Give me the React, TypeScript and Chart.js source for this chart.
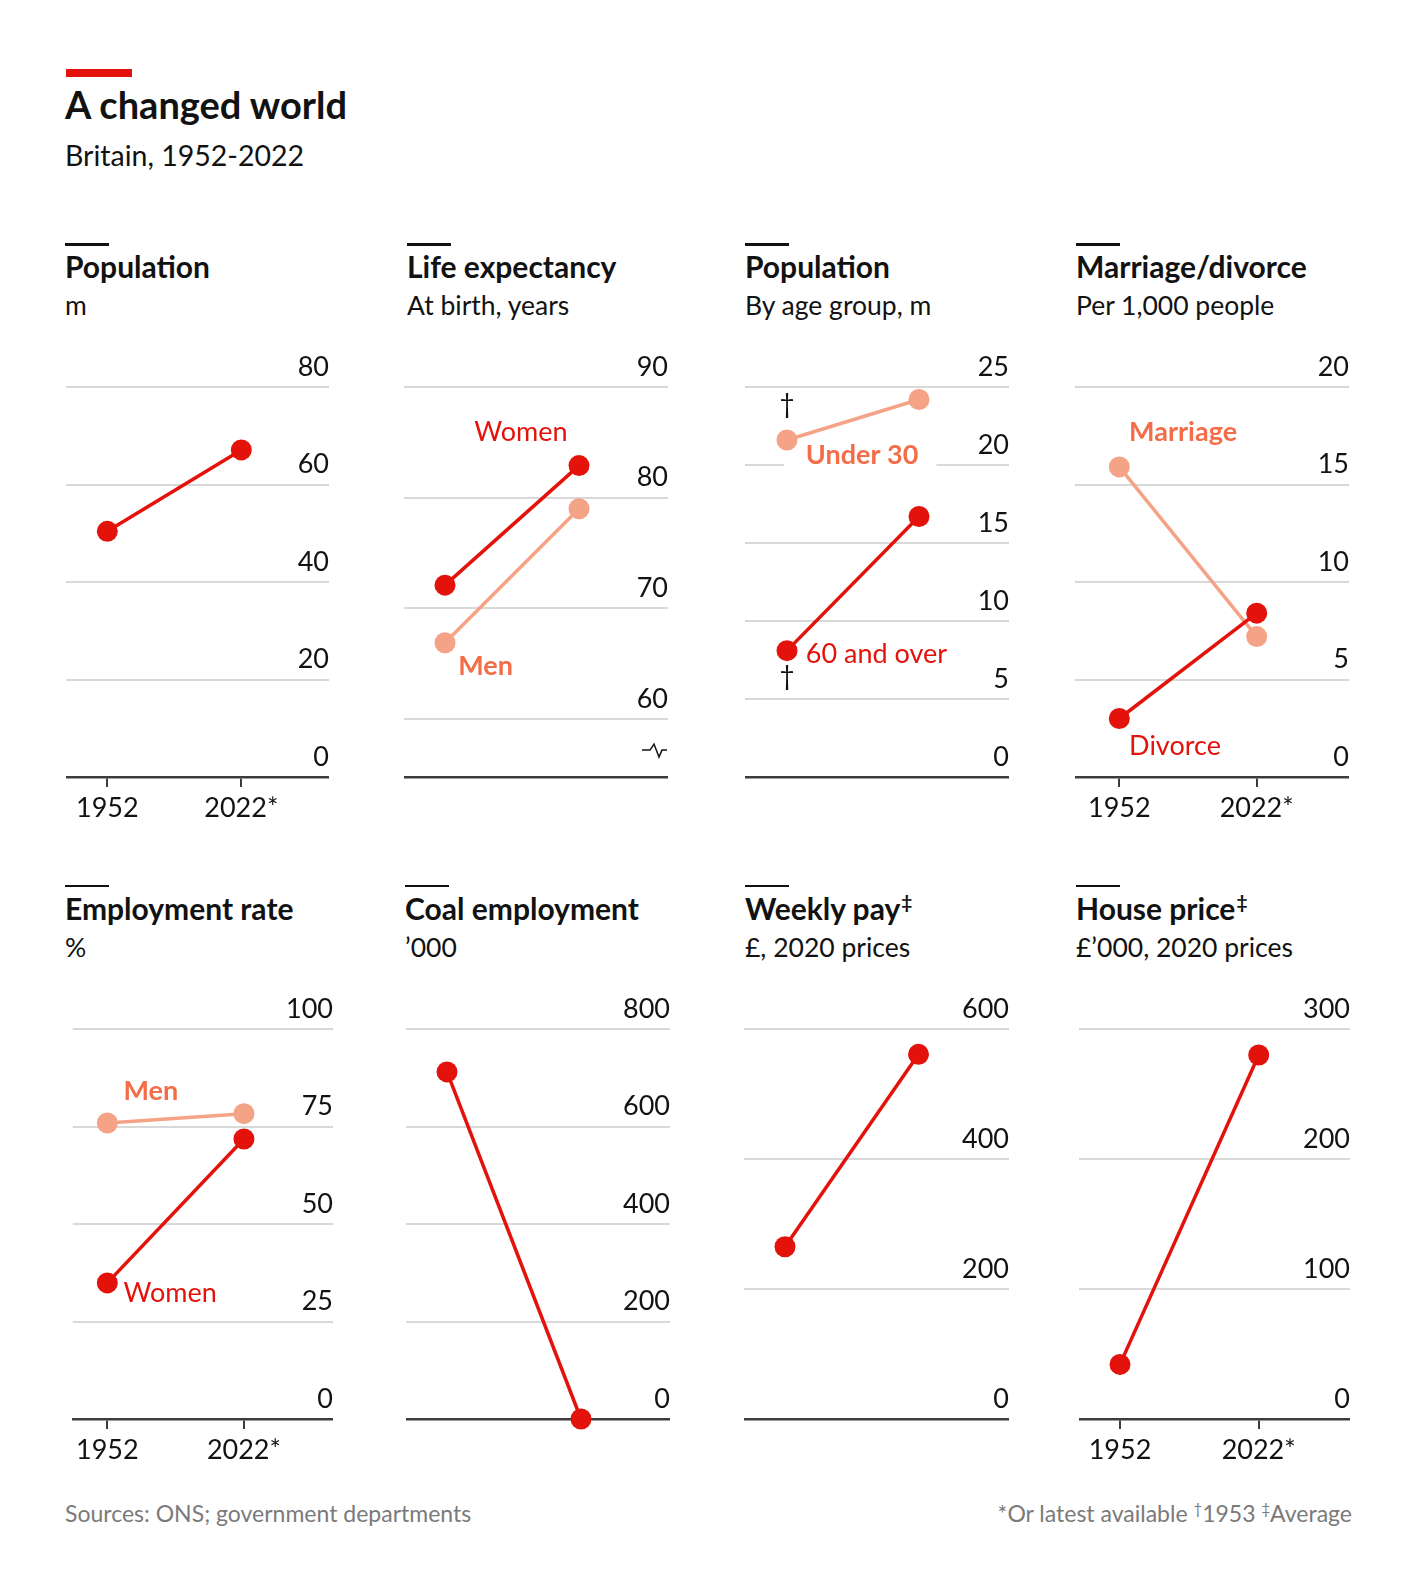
import { useEffect, useRef } from 'react';
import { Chart, registerables } from 'chart.js';

Chart.register(...registerables);

const FONT = 'Lato, "Noto Sans", sans-serif';
const RED = '#e3120b';
const SALMON = '#f5a387';
const SALMON_TEXT = '#f36d48';
const INK = '#121212';
const GRID = '#d9d9d9';
const AXIS = '#3c3c3c';

// shared x axis
const years = [1952, 2022];
const yearLabels = ['1952', '2022*'];

// Population, m
const popTicks = [0, 20, 40, 60, 80];
const popTotal = [50.4, 67.1];

// Life expectancy at birth, years
const lifeTicks = [60, 70, 80, 90];
const lifeWomen = [72.1, 82.9];
const lifeMen = [66.9, 79.0];

// Population by age group, m
const ageTicks = [0, 5, 10, 15, 20, 25];
const ageUnder30 = [21.6, 24.2];
const age60Plus = [8.1, 16.7];

// Marriage/divorce, per 1,000 people
const marriageTicks = [0, 5, 10, 15, 20];
const marriage = [15.9, 7.2];
const divorce = [3.0, 8.4];

// Employment rate, %
const employmentTicks = [0, 25, 50, 75, 100];
const employmentMen = [75.9, 78.3];
const employmentWomen = [34.9, 71.8];

// Coal employment, '000
const coalTicks = [0, 200, 400, 600, 800];
const coal = [712, 0];

// Weekly pay, £ at 2020 prices
const payTicks = [0, 200, 400, 600];
const pay = [265, 561];

// House price, £'000 at 2020 prices
const houseTicks = [0, 100, 200, 300];
const house = [42, 280];

const ROW_TOP = [387, 1028.5];
const ROW_SHIFT = 641.5;
const PLOT_H = 390;
const PAD_TOP = 44;
const X_AXIS_H = 52;

const notesPlugin = {
  id: 'notes',
  beforeDatasetsDraw(chart: any, _args: any, opts: any) {
    const { ctx, scales } = chart;
    const x = scales.x;
    const y = scales.y;
    ctx.save();
    (opts.labels || []).forEach((l: any) => {
      ctx.font = `${l.bold ? 700 : 400} ${l.size || 27}px ${FONT}`;
      ctx.textAlign = l.align || 'left';
      ctx.textBaseline = 'middle';
      const px = x.getPixelForValue(l.x);
      const py = y.getPixelForValue(l.y);
      if (l.backdrop) {
        const w = ctx.measureText(l.text).width;
        ctx.fillStyle = '#ffffff';
        ctx.fillRect(px - 22, py - 17, w + 40, 34);
      }
      ctx.fillStyle = l.color;
      ctx.fillText(l.text, px, py);
    });
    if (opts.axisBreak != null) {
      const by = y.getPixelForValue(opts.axisBreak);
      const r = chart.chartArea.right - 1;
      ctx.strokeStyle = INK;
      ctx.lineWidth = 1.5;
      ctx.beginPath();
      ctx.moveTo(r - 25, by);
      ctx.lineTo(r - 17, by);
      ctx.lineTo(r - 13, by - 6);
      ctx.lineTo(r - 8, by + 7);
      ctx.lineTo(r - 5, by);
      ctx.lineTo(r, by);
      ctx.stroke();
    }
    ctx.restore();
  },
};

type Series = { values: number[]; color: string };
type Note = { text: string; x: number; y: number; color: string; bold?: boolean; align?: string; backdrop?: boolean; size?: number };
type PanelSpec = {
  row: number;
  left: number;
  right: number;
  x1952: number;
  x2022: number;
  titleX: number;
  title: string;
  mark?: string;
  sub: string;
  ticks: number[];
  yMin?: number;
  series: Series[];
  showYears?: boolean;
  notes?: Note[];
  axisBreak?: number;
};

const panels: PanelSpec[] = [
  {
    row: 0, left: 66, right: 329, x1952: 107.3, x2022: 241.3, titleX: 65,
    title: 'Population', sub: 'm', ticks: popTicks, showYears: true,
    series: [{ values: popTotal, color: RED }],
  },
  {
    row: 0, left: 404, right: 668, x1952: 445, x2022: 579, titleX: 407,
    title: 'Life expectancy', sub: 'At birth, years', ticks: lifeTicks, yMin: 54.77,
    series: [{ values: lifeWomen, color: RED }, { values: lifeMen, color: SALMON }],
    notes: [
      { text: 'Women', x: 1991.7, y: 85.9, color: RED, align: 'center' },
      { text: 'Men', x: 1973.2, y: 64.8, color: SALMON_TEXT, bold: true, align: 'center' },
    ],
    axisBreak: 57.2,
  },
  {
    row: 0, left: 745, right: 1009, x1952: 787, x2022: 919, titleX: 745,
    title: 'Population', sub: 'By age group, m', ticks: ageTicks,
    series: [{ values: age60Plus, color: RED }, { values: ageUnder30, color: SALMON }],
    notes: [
      { text: 'Under 30', x: 1962, y: 20.6, color: SALMON_TEXT, bold: true, backdrop: true },
      { text: '60 and over', x: 1962, y: 7.85, color: RED },
      { text: '†', x: 1952, y: 23.9, color: INK, align: 'center', size: 26 },
      { text: '†', x: 1952, y: 6.45, color: INK, align: 'center', size: 26 },
    ],
  },
  {
    row: 0, left: 1075, right: 1349, x1952: 1119.3, x2022: 1256.7, titleX: 1076,
    title: 'Marriage/divorce', sub: 'Per 1,000 people', ticks: marriageTicks, showYears: true,
    series: [{ values: divorce, color: RED }, { values: marriage, color: SALMON }],
    notes: [
      { text: 'Marriage', x: 1957, y: 17.7, color: SALMON_TEXT, bold: true },
      { text: 'Divorce', x: 1957, y: 1.55, color: RED },
    ],
  },
  {
    row: 1, left: 71, right: 333, x1952: 105.7, x2022: 243.3, titleX: 65,
    title: 'Employment rate', sub: '%', ticks: employmentTicks, showYears: true,
    series: [{ values: employmentWomen, color: RED }, { values: employmentMen, color: SALMON }],
    notes: [
      { text: 'Men', x: 1960.3, y: 83.9, color: SALMON_TEXT, bold: true },
      { text: 'Women', x: 1960.3, y: 32.3, color: RED },
    ],
  },
  {
    row: 1, left: 406, right: 670, x1952: 447, x2022: 581, titleX: 405,
    title: 'Coal employment', sub: '’000', ticks: coalTicks,
    series: [{ values: coal, color: RED }],
  },
  {
    row: 1, left: 744, right: 1009, x1952: 785, x2022: 918.5, titleX: 745,
    title: 'Weekly pay', mark: '‡', sub: '£, 2020 prices', ticks: payTicks,
    series: [{ values: pay, color: RED }],
  },
  {
    row: 1, left: 1079, right: 1350, x1952: 1120, x2022: 1258.7, titleX: 1076,
    title: 'House price', mark: '‡', sub: '£’000, 2020 prices', ticks: houseTicks, showYears: true,
    series: [{ values: house, color: RED }],
  },
];

function buildConfig(p: PanelSpec): any {
  const perYear = (p.x2022 - p.x1952) / (years[1] - years[0]);
  const xMin = years[0] - (p.x1952 - p.left) / perYear;
  const xMax = years[1] + (p.right - p.x2022) / perYear;
  const yMin = p.yMin ?? p.ticks[0];
  const yMax = p.ticks[p.ticks.length - 1];
  const tickFont = { family: FONT, size: 27 };

  return {
    type: 'line',
    data: {
      datasets: p.series.map((s) => ({
        data: years.map((yr, i) => ({ x: yr, y: s.values[i] })),
        borderColor: s.color,
        backgroundColor: s.color,
        pointBackgroundColor: s.color,
        pointBorderWidth: 0,
        pointRadius: 10.5,
        borderWidth: 3.5,
        clip: false,
      })),
    },
    options: {
      animation: false,
      responsive: false,
      events: [],
      layout: { autoPadding: false, padding: { top: PAD_TOP, left: 0, right: 0, bottom: 0 } },
      plugins: {
        legend: { display: false },
        tooltip: { enabled: false },
        notes: { labels: p.notes || [], axisBreak: p.axisBreak },
      },
      scales: {
        x: {
          type: 'linear',
          min: xMin,
          max: xMax,
          afterBuildTicks: (s: any) => { s.ticks = years.map((v) => ({ value: v })); },
          afterFit: (s: any) => { s.height = X_AXIS_H; },
          grid: {
            display: !!p.showYears,
            drawOnChartArea: false,
            drawTicks: true,
            tickLength: 10,
            color: AXIS,
            lineWidth: 2,
          },
          border: { display: true, color: AXIS, width: 2.5 },
          ticks: {
            display: !!p.showYears,
            autoSkip: false,
            maxRotation: 0,
            padding: 5,
            color: INK,
            font: tickFont,
            callback: (v: number) => yearLabels[years.indexOf(v)] ?? '',
          },
        },
        y: {
          position: 'right',
          min: yMin,
          max: yMax,
          afterBuildTicks: (s: any) => { s.ticks = p.ticks.map((v) => ({ value: v })); },
          afterFit: (s: any) => { s.width = 0; },
          grid: {
            drawTicks: false,
            lineWidth: 2,
            color: (c: any) => (c.tick && c.tick.value === yMin ? 'rgba(0,0,0,0)' : GRID),
          },
          border: { display: false },
          ticks: {
            mirror: true,
            padding: 0,
            labelOffset: -20,
            crossAlign: 'near',
            color: INK,
            font: tickFont,
          },
        },
      },
    },
    plugins: [notesPlugin],
  };
}

const Panel = ({ p }: { p: PanelSpec }) => {
  const canvasRef = useRef<HTMLCanvasElement>(null);
  const chartRef = useRef<any>(null);

  useEffect(() => {
    if (!canvasRef.current) return;
    if (chartRef.current) chartRef.current.destroy();
    chartRef.current = new Chart(canvasRef.current, buildConfig(p));
    return () => { if (chartRef.current) chartRef.current.destroy(); chartRef.current = null; };
  }, [p]);

  const shift = p.row * ROW_SHIFT;
  const width = Math.round(p.right - p.left);
  const height = PAD_TOP + PLOT_H + X_AXIS_H;

  return (
    <>
      <div style={{ position: 'absolute', left: p.titleX, top: 243 + shift, width: 44, height: 2.5, background: INK }} />
      <div style={{ position: 'absolute', left: p.titleX, top: 248 + shift, font: `700 30px/36px ${FONT}`, color: INK, whiteSpace: 'nowrap' }}>
        {p.title}
        {p.mark && <span style={{ fontSize: 19, position: 'relative', top: -11, marginLeft: 1 }}>{p.mark}</span>}
      </div>
      <div style={{ position: 'absolute', left: p.titleX, top: 288 + shift, font: `400 26.5px/34px ${FONT}`, color: INK, whiteSpace: 'nowrap' }}>
        {p.sub}
      </div>
      <canvas
        ref={canvasRef}
        width={width}
        height={height}
        style={{ position: 'absolute', left: p.left, top: ROW_TOP[p.row] - PAD_TOP, width, height }}
      />
    </>
  );
};

export default function App() {
  return (
    <div style={{ position: 'absolute', left: 0, top: 0, width: 1420, height: 1594, background: '#ffffff', fontFamily: FONT, color: INK }}>
      <div style={{ position: 'absolute', left: 66, top: 69, width: 66, height: 8, background: RED }} />
      <div style={{ position: 'absolute', left: 65, top: 82, font: `700 38px/45px ${FONT}`, color: INK, whiteSpace: 'nowrap' }}>
        A changed world
      </div>
      <div style={{ position: 'absolute', left: 65, top: 138, font: `400 28.5px/34px ${FONT}`, color: INK, whiteSpace: 'nowrap' }}>
        Britain, 1952-2022
      </div>
      {panels.map((p, i) => <Panel key={i} p={p} />)}
      <div style={{ position: 'absolute', left: 65, top: 1498, font: `400 23px/30px ${FONT}`, color: '#7a7a7a', whiteSpace: 'nowrap' }}>
        Sources: ONS; government departments
      </div>
      <div style={{ position: 'absolute', right: 68, top: 1498, font: `400 23px/30px ${FONT}`, color: '#7a7a7a', whiteSpace: 'nowrap', textAlign: 'right' }}>
        *Or latest available <span style={{ fontSize: 15, position: 'relative', top: -8 }}>†</span>1953{' '}
        <span style={{ fontSize: 15, position: 'relative', top: -8 }}>‡</span>Average
      </div>
    </div>
  );
}
